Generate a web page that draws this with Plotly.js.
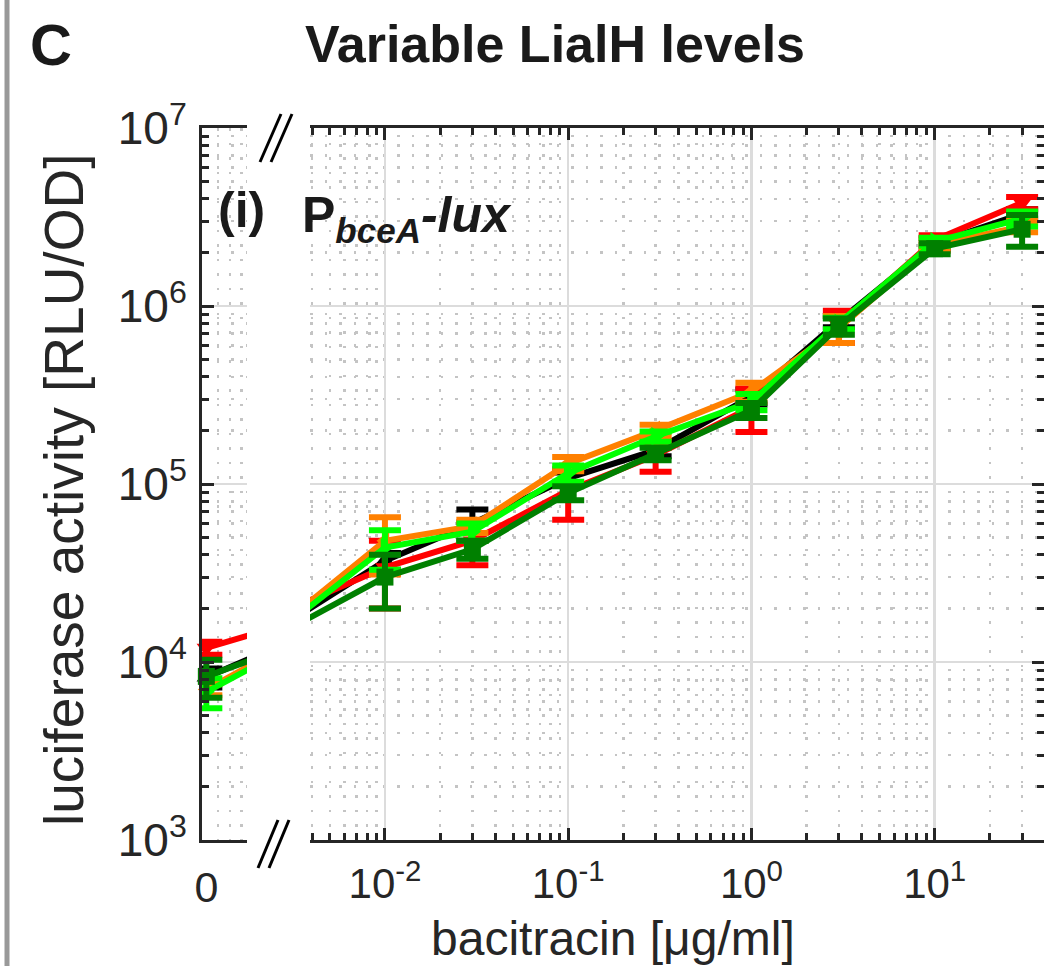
<!DOCTYPE html>
<html>
<head>
<meta charset="utf-8">
<script src="https://cdn.plot.ly/plotly-3.0.1.min.js"></script>
<style>html,body{margin:0;padding:0;background:#fff;}#chart{width:1044px;height:966px;}</style>
</head>
<body>
<div id="chart"></div>
<script>
// ---- data ----
const concentrations = [0, 0.01, 0.03, 0.1, 0.3, 1, 3, 10, 30]; // bacitracin [ug/ml]
const seriesNames = ['black', 'red', 'orange', 'light green', 'dark green'];
const blackVals  = [8.2e3, 3.7e4, 6.0e4, 1.08e5, 1.55e5, 3.1e5, 8.2e5, 2.25e6, 3.3e6];
const blackErr   = [1.0e3, 4.0e3, 1.2e4, 8.0e3, 1.2e4, 3.0e4, 6.0e4, 1.5e5, 2.0e5];
const redVals    = [1.2e4, 3.4e4, 4.8e4, 9.2e4, 1.45e5, 2.7e5, 7.8e5, 2.35e6, 3.8e6];
const redErr     = [1.0e3, 1.4e4, 1.3e4, 2.9e4, 2.8e4, 7.4e4, 1.6e5, 1.5e5, 3.0e5];
const orangeVals = [7.0e3, 4.8e4, 5.8e4, 1.3e5, 2.0e5, 3.3e5, 7.5e5, 2.2e6, 2.8e6];
const orangeErr  = [5.0e2, 1.7e4, 5.0e3, 1.2e4, 1.5e4, 4.0e4, 1.3e5, 1.5e5, 2.0e5];
const lgreenVals = [6.8e3, 4.4e4, 5.4e4, 1.15e5, 1.85e5, 2.9e5, 8.0e5, 2.3e6, 3.1e6];
const lgreenErr  = [1.3e3, 1.1e4, 6.0e3, 1.2e4, 1.2e4, 3.0e4, 6.0e4, 1.2e5, 3.0e5];
const dgreenVals = [8.3e3, 3.0e4, 4.3e4, 8.9e4, 1.48e5, 2.6e5, 7.7e5, 2.1e6, 2.7e6];
const dgreenErr  = [2.0e3, 1.0e4, 5.0e3, 8.0e3, 1.2e4, 2.5e4, 8.0e4, 1.5e5, 5.5e5];
const yTickVals  = [1e3, 1e4, 1e5, 1e6, 1e7];
const yTickText  = ['10<sup>3</sup>', '10<sup>4</sup>', '10<sup>5</sup>', '10<sup>6</sup>', '10<sup>7</sup>'];
const xTickVals  = [0.01, 0.1, 1, 10];
const xTickText  = ['10<sup>-2</sup>', '10<sup>-1</sup>', '10<sup>0</sup>', '10<sup>1</sup>'];

// ---- style ----
const W = 1044, H = 966;
const px = v => v / W;
const py = v => 1 - v / H;
const ZERO_POS = 0.001; // where the x=0 point sits on the broken log axis
const colors = ['#000000', '#ff0000', '#ff8000', '#00ff00', '#008000'];
const symbols = ['triangle-up', 'triangle-down', 'triangle-left', 'triangle-right', 'square'];
const values = [blackVals, redVals, orangeVals, lgreenVals, dgreenVals];
const errors = [blackErr, redErr, orangeErr, lgreenErr, dgreenErr];
const FONT = 'Liberation Sans, Arial, Helvetica, sans-serif';
const AX = '#262626';

const mainX = concentrations.map(c => c === 0 ? ZERO_POS : c);
const traces = [];
values.forEach((vals, i) => {
  traces.push({
    x: mainX, y: vals, xaxis: 'x2', yaxis: 'y2', type: 'scatter', mode: 'lines+markers',
    name: seriesNames[i], showlegend: false,
    line: {color: colors[i], width: 6},
    marker: {color: colors[i], symbol: symbols[i], size: 17},
    error_y: {type: 'data', array: errors[i], visible: true, color: colors[i], thickness: 6, width: 16}
  });
  traces.push({
    x: concentrations.slice(0, 2), y: vals.slice(0, 2), xaxis: 'x', yaxis: 'y',
    type: 'scatter', mode: 'lines', showlegend: false,
    line: {color: colors[i], width: 6}, hoverinfo: 'skip'
  });
  traces.push({
    x: concentrations.slice(0, 1), y: vals.slice(0, 1), xaxis: 'x', yaxis: 'y',
    type: 'scatter', mode: 'markers', showlegend: false, cliponaxis: false,
    marker: {color: colors[i], symbol: symbols[i], size: 17},
    error_y: {type: 'data', array: errors[i].slice(0, 1), visible: true, color: colors[i], thickness: 6, width: 16}
  });
});

const gridMinor = {showgrid: true, gridcolor: '#c4c4c4', gridwidth: 2.5, griddash: '2.5px,12px'};

const layout = {
  width: W, height: H,
  margin: {l: 0, r: 0, t: 0, b: 0},
  paper_bgcolor: '#ffffff', plot_bgcolor: '#ffffff',
  showlegend: false,
  font: {family: FONT, color: AX},
  title: {
    text: '<b>Variable LialH levels</b>', x: px(555), y: py(44), xanchor: 'center', yanchor: 'middle',
    xref: 'paper', yref: 'container', automargin: false,
    font: {family: FONT, size: 52, color: '#1a1a1a'}
  },
  xaxis: {
    domain: [px(202), px(247)], anchor: 'y', type: 'linear', range: [-0.00016, 0.0015],
    tickmode: 'array', tickvals: [0], ticktext: ['0'], ticks: '',
    showline: true, linecolor: AX, linewidth: 3, mirror: true, zeroline: false,
    showgrid: false, automargin: false, ticklabelstandoff: 7,
    tickfont: {family: FONT, size: 43, color: AX},
    minor: Object.assign({tickmode: 'array', tickvals: [0.00043, 0.00087, 0.0013], ticks: ''}, gridMinor)
  },
  yaxis: {
    domain: [py(840), py(128)], anchor: 'x', type: 'log', range: [3, 7],
    tickmode: 'array', tickvals: yTickVals, ticktext: yTickText,
    ticks: 'inside', ticklen: 12, tickwidth: 3, tickcolor: AX,
    showline: true, linecolor: AX, linewidth: 3, mirror: false, zeroline: false,
    showgrid: true, gridcolor: '#dcdcdc', gridwidth: 2.5, automargin: false,
    tickfont: {family: FONT, size: 46, color: AX}, ticklabelstandoff: 3,
    minor: Object.assign({dtick: 'D1', ticks: 'inside', ticklen: 7, tickwidth: 3, tickcolor: AX}, gridMinor)
  },
  xaxis2: {
    domain: [px(310), 1], anchor: 'y2', type: 'log',
    range: [Math.log10(0.0039), Math.log10(39.5)],
    tickmode: 'array', tickvals: xTickVals, ticktext: xTickText,
    ticks: 'inside', ticklen: 12, tickwidth: 3, tickcolor: AX,
    showline: true, linecolor: AX, linewidth: 3, mirror: 'ticks', zeroline: false,
    showgrid: true, gridcolor: '#dcdcdc', gridwidth: 2.5, automargin: false, ticklabelstandoff: 5,
    tickfont: {family: FONT, size: 42, color: AX},
    minor: Object.assign({dtick: 'D1', ticks: 'inside', ticklen: 7, tickwidth: 3, tickcolor: AX}, gridMinor)
  },
  yaxis2: {
    domain: [py(840), py(128)], anchor: 'x2', type: 'log', matches: 'y', side: 'right',
    tickmode: 'array', tickvals: yTickVals, showticklabels: false,
    ticks: 'inside', ticklen: 12, tickwidth: 3, tickcolor: AX,
    showline: true, linecolor: AX, linewidth: 3, mirror: false, zeroline: false,
    showgrid: true, gridcolor: '#dcdcdc', gridwidth: 2.5, automargin: false,
    minor: Object.assign({dtick: 'D1', ticks: 'inside', ticklen: 7, tickwidth: 3, tickcolor: AX}, gridMinor)
  },
  annotations: [
    {text: '<b>C</b>', x: px(28), y: py(44), xref: 'paper', yref: 'paper', xanchor: 'left', yanchor: 'middle',
     showarrow: false, font: {family: FONT, size: 58, color: '#1a1a1a'}},
    {text: '<b>(i)</b>', x: px(216), y: py(210), xref: 'paper', yref: 'paper', xanchor: 'left', yanchor: 'middle',
     showarrow: false, font: {family: FONT, size: 50, color: '#1a1a1a'}},
    {text: '<b>P<sub><i>bceA</i></sub><i>-lux</i></b>', x: px(300), y: py(218), xref: 'paper', yref: 'paper',
     xanchor: 'left', yanchor: 'middle', showarrow: false, font: {family: FONT, size: 50, color: '#1a1a1a'}},
    {text: 'bacitracin [\u03bcg/ml]', x: px(613), y: py(938), xref: 'paper', yref: 'paper', xanchor: 'center', yanchor: 'middle',
     showarrow: false, font: {family: FONT, size: 48, color: AX}},
    {text: 'luciferase activity [RLU/OD]', x: px(64), y: py(490), xref: 'paper', yref: 'paper', xanchor: 'center', yanchor: 'middle',
     textangle: -90, showarrow: false, font: {family: FONT, size: 55, color: AX}}
  ],
  shapes: [
    {type: 'line', xref: 'paper', yref: 'paper', x0: px(7), x1: px(7), y0: 0, y1: 1, line: {color: '#999999', width: 5}},
    {type: 'line', xref: 'paper', yref: 'paper', x0: px(260), y0: py(162), x1: px(281), y1: py(114), line: {color: '#000', width: 3}},
    {type: 'line', xref: 'paper', yref: 'paper', x0: px(271), y0: py(162), x1: px(292), y1: py(114), line: {color: '#000', width: 3}},
    {type: 'line', xref: 'paper', yref: 'paper', x0: px(258), y0: py(868), x1: px(278), y1: py(820), line: {color: '#000', width: 3}},
    {type: 'line', xref: 'paper', yref: 'paper', x0: px(269), y0: py(868), x1: px(289), y1: py(820), line: {color: '#000', width: 3}}
  ]
};

Plotly.newPlot('chart', traces, layout, {displayModeBar: false, staticPlot: true});
</script>
</body>
</html>
